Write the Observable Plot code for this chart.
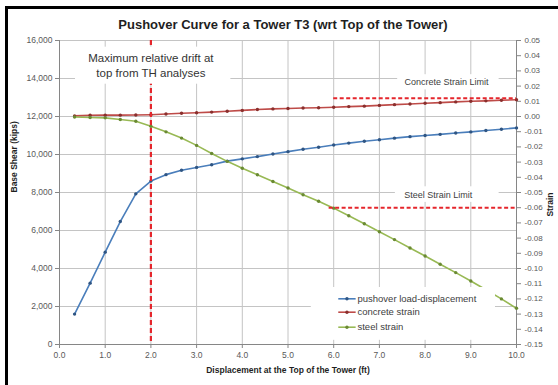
<!DOCTYPE html>
<html><head><meta charset="utf-8">
<script src="https://cdn.jsdelivr.net/npm/d3@7"></script>
<script src="https://cdn.jsdelivr.net/npm/@observablehq/plot@0.6"></script>
<style>
html,body{margin:0;padding:0;background:#fff;}
#wrap{position:relative;width:558px;height:385px;overflow:hidden;}
#border{position:absolute;left:5px;top:6px;width:600px;height:400px;border-top:3px solid #000;border-left:3px solid #000;pointer-events:none;}
</style></head><body>
<div id="wrap"><div id="chart"></div><div id="border"></div></div>
<script>
// ---- data ----
const displacement = [0.33,0.67,1.00,1.33,1.67,2.00,2.33,2.67,3.00,3.33,3.67,4.00,4.33,4.67,5.00,5.33,5.67,6.00,6.33,6.67,7.00,7.33,7.67,8.00,8.33,8.67,9.00,9.33,9.67,10.00];
const baseShear = [1600,3230,4860,6470,7930,8600,8940,9170,9320,9460,9650,9770,9890,10030,10150,10280,10380,10500,10600,10700,10780,10860,10940,11000,11060,11130,11190,11260,11330,11400];
const concreteStrain = [0.0004,0.0008,0.0009,0.0009,0.0010,0.0012,0.0016,0.0021,0.0025,0.0029,0.0035,0.0040,0.0046,0.0050,0.0053,0.0056,0.0058,0.0061,0.0065,0.0068,0.0073,0.0078,0.0082,0.0087,0.0091,0.0096,0.0100,0.0103,0.0107,0.0110];
const steelStrain = [-0.0003,-0.0007,-0.0009,-0.0020,-0.0031,-0.0064,-0.0101,-0.0142,-0.0190,-0.0243,-0.0295,-0.0340,-0.0383,-0.0428,-0.0470,-0.0515,-0.0558,-0.0603,-0.0653,-0.0706,-0.0758,-0.0810,-0.0865,-0.0918,-0.0972,-0.1027,-0.1082,-0.1140,-0.1200,-0.1262];

const seriesNames = ["pushover load-displacement","concrete strain","steel strain"];
const seriesColors = ["#4a7ebb","#be4b48","#98b954"];
const markerColors = ["#2f5583","#8a2f2d","#6a8a33"];

const xTicks = [0,1,2,3,4,5,6,7,8,9,10];
const yTicks = [0,2000,4000,6000,8000,10000,12000,14000,16000];
const strainTicks = [0.05,0.04,0.03,0.02,0.01,0.00,-0.01,-0.02,-0.03,-0.04,-0.05,-0.06,-0.07,-0.08,-0.09,-0.10,-0.11,-0.12,-0.13,-0.14,-0.15];

const driftX = 2.0;
const limitNames = ["Concrete Strain Limit","Steel Strain Limit"];
const limitStrain = [0.012,-0.06];
const limitStart = [6.0,5.9];
const limitEnd = [10,10];

const titleText = "Pushover Curve for a Tower T3 (wrt Top of the Tower)";
const xTitle = "Displacement at the Top of the Tower (ft)";
const yTitle = "Base Shear (kips)";
const y2Title = "Strain";
const driftLines = ["Maximum relative drift at","top from TH analyses"];

// secondary axis: strain 0.05..-0.15 aligned with base shear 16000..0
const toShear = s => 12000 + 80000 * s;

const rows = displacement.map((x,i) => ({x, shear: baseShear[i], concrete: toShear(concreteStrain[i]), steel: toShear(steelStrain[i])}));
const limits = limitNames.map((name,i) => ({name, y: toShear(limitStrain[i]), x1: limitStart[i], x2: limitEnd[i]}));

const FONT = "'Liberation Sans Narrow','Liberation Sans',Arial,sans-serif";
const grid = "#c4c4c4", axisC = "#868686", tickText = "#595959";

// annotation layout in data coordinates
const boxes = [
  {x1:0.35, x2:3.75, y1:13700, y2:15650},
  {x1:7.40, x2:9.62, y1:13400, y2:14200},
  {x1:7.35, x2:9.62, y1:7480, y2:8300},
  {x1:5.51, x2:9.54, y1:220, y2:3000}
];
const legendY = [2405,1700,910];
const legendRows = seriesNames.map((name,i) => ({name, color: seriesColors[i], mcolor: markerColors[i], y: legendY[i]}));

const chart = Plot.plot({
  width: 558, height: 385,
  marginLeft: 59, marginRight: 42, marginTop: 40, marginBottom: 41,
  style: {fontFamily: FONT, background: "#fff", overflow: "visible"},
  x: {domain: [0,10], axis: null},
  y: {domain: [0,16000], axis: null},
  marks: [
    Plot.ruleX(xTicks, {x: d => d, stroke: grid}),
    Plot.ruleY(yTicks, {y: d => d, stroke: grid}),
    Plot.ruleX([0,10], {x: d => d, stroke: axisC}),
    Plot.ruleY([0], {y: d => d, stroke: axisC}),
    Plot.axisX({ticks: xTicks, tickFormat: d => d.toFixed(1), tickSize: 4, tickPadding: 3, stroke: axisC, fill: tickText, fontSize: 8.5, label: null}),
    Plot.axisY({anchor: "left", ticks: yTicks, tickFormat: d3.format(","), tickSize: 4, tickPadding: 3, stroke: axisC, fill: tickText, fontSize: 8.5, label: null}),
    Plot.axisY({anchor: "right", ticks: strainTicks.map(toShear), tickFormat: v => { const s = Math.round((v - 12000) / 800) / 100; return (s === 0 ? 0 : s).toFixed(2); }, tickSize: 4, tickPadding: 4, stroke: axisC, fill: tickText, fontSize: 8, label: null}),
    // series
    Plot.line(rows, {x: "x", y: "shear", stroke: seriesColors[0], strokeWidth: 1.6}),
    Plot.dot(rows, {x: "x", y: "shear", r: 1.7, fill: markerColors[0]}),
    Plot.line(rows, {x: "x", y: "concrete", stroke: seriesColors[1], strokeWidth: 1.6}),
    Plot.dot(rows, {x: "x", y: "concrete", r: 1.7, fill: markerColors[1]}),
    Plot.line(rows, {x: "x", y: "steel", stroke: seriesColors[2], strokeWidth: 1.6}),
    Plot.dot(rows, {x: "x", y: "steel", r: 1.7, fill: markerColors[2]}),
    // limits
    Plot.ruleY(limits, {y: "y", x1: "x1", x2: "x2", stroke: "#e5262c", strokeWidth: 2, strokeDasharray: "4,2.5"}),
    Plot.ruleX([driftX], {x: d => d, stroke: "#e5262c", strokeWidth: 2.2, strokeDasharray: "5,3"}),
    // annotation boxes
    Plot.rect(boxes, {x1: "x1", x2: "x2", y1: "y1", y2: "y2", fill: "#fff"}),
    Plot.text(driftLines, {x: driftX, y: (d,i) => [15050,14270][i], text: d => d, fontSize: 11.5, fill: "#333"}),
    Plot.text([limits[0]], {x: 8.47, y: 13790, text: "name", fontSize: 9, fill: "#404040"}),
    Plot.text([limits[1]], {x: 8.29, y: 7840, text: "name", fontSize: 9, fill: "#404040"}),
    // legend
    Plot.link(legendRows, {x1: 6.10, x2: 6.48, y1: "y", y2: "y", stroke: "color", strokeWidth: 1.6}),
    Plot.dot(legendRows, {x: 6.29, y: "y", r: 1.7, fill: "mcolor"}),
    Plot.text(legendRows, {x: 6.52, y: "y", text: "name", textAnchor: "start", fontSize: 9.5, fill: "#404040"}),
    // titles
    Plot.text([titleText], {frameAnchor: "top", dx: -5, dy: -21, text: d => d, fontSize: 13, fontWeight: "bold", fill: "#1f1f1f"}),
    Plot.text([xTitle], {frameAnchor: "bottom", dy: 28, text: d => d, fontSize: 8.5, fontWeight: "bold", fill: "#1f1f1f"}),
    Plot.text([yTitle], {frameAnchor: "left", dx: -45, rotate: -90, text: d => d, fontSize: 8.5, fontWeight: "bold", fill: "#1f1f1f"}),
    Plot.text([y2Title], {frameAnchor: "right", dx: 34, rotate: -90, text: d => d, fontSize: 8.5, fontWeight: "bold", fill: "#1f1f1f"})
  ]
});
document.getElementById("chart").appendChild(chart);
</script>
</body></html>
